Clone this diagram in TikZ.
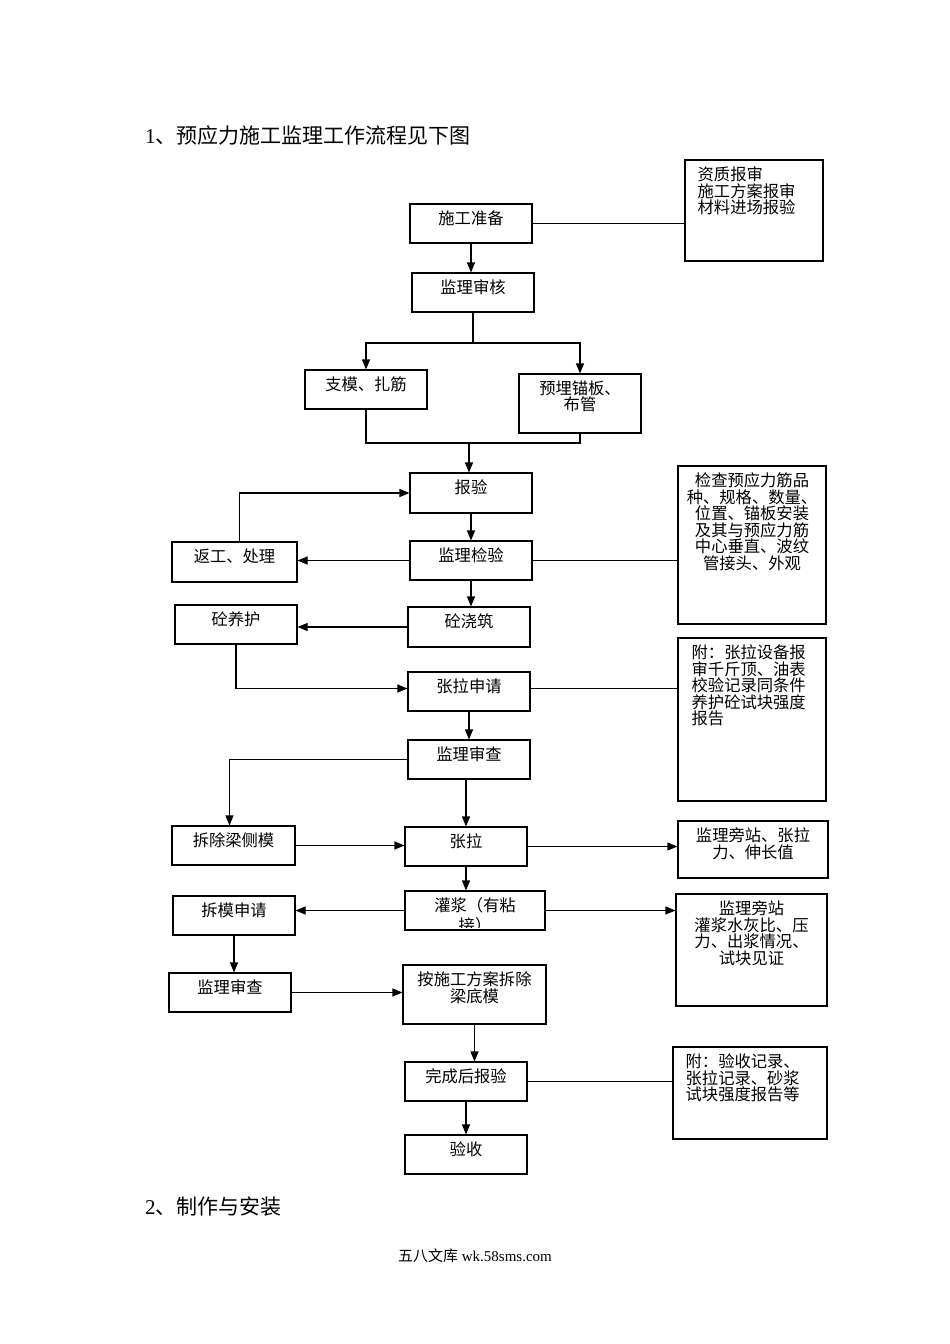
\documentclass[tikz,border=0pt]{standalone}
\usepackage{fontspec}
\setmainfont{Liberation Serif}
\newfontfamily\cjk{Noto Sans CJK SC}
\usetikzlibrary{arrows.meta}
\tikzset{
  bx/.style={draw, line width=1.1pt, inner sep=0pt, fill=white},
  lbl/.style={font=\cjk\fontsize{16.3}{16.6}\selectfont, inner sep=0pt, align=center, text=black},
  lbll/.style={font=\cjk\fontsize{16.3}{16.6}\selectfont, inner sep=0pt, align=left, text=black},
  ln/.style={line width=1.1pt},
  arr/.style={line width=1.1pt, -{Triangle[length=10pt,width=8pt]}},
  ttl/.style={font=\fontsize{21}{24}\selectfont, inner sep=0pt, anchor=west},
}
\newcommand{\bxc}[6]{% name, cx, cy, w, h, text
  \node[bx, minimum width=#4pt, minimum height=#5pt,
        label={[lbl,anchor=north,yshift=-7pt]north:{#6}}] (#1) at (#2,#3) {};}
\newcommand{\bxl}[7]{% name, cx, cy, w, h, xshift, text
  \node[bx, minimum width=#4pt, minimum height=#5pt,
        label={[lbll,anchor=north west,yshift=-7pt,xshift=#6pt]north west:{#7}}] (#1) at (#2,#3) {};}
\begin{document}
\begin{tikzpicture}[x=1pt,y=-1pt]
\fill[white] (0,0) rectangle (950,1344);
\useasboundingbox (0,0) rectangle (950,1344);

\node[ttl] (title1) at (145,136) {1{\cjk 、预应力施工监理工作流程见下图}};
\node[ttl] (title2) at (145,1207) {2{\cjk 、制作与安装}};
\node[font=\fontsize{15}{18}\selectfont, inner sep=0pt] (foot) at (475,1256) {{\cjk 五八文库} wk.58sms.com};

% boxes
\bxc{sg}{471}{223.5}{122}{39}{施工准备}
\bxl{zz}{754}{210.5}{138}{101}{13}{资质报审\\施工方案报审\\材料进场报验}
\bxc{sh}{473}{292.5}{122}{39}{监理审核}
\bxc{zm}{366}{389.5}{122}{39}{支模、扎筋}
\bxc{ym}{580}{403.5}{122}{59}{预埋锚板、\\布管}
\bxc{by}{471}{493}{122}{40}{报验}
\bxc{jc}{752}{545}{148}{158}{检查预应力筋品\\种、规格、数量、\\位置、锚板安装\\及其与预应力筋\\中心垂直、波纹\\管接头、外观}
\bxc{fg}{234.5}{562}{125}{40}{返工、处理}
\bxc{jy}{471}{560.5}{122}{39}{监理检验}
\bxc{jz}{469}{627}{122}{40}{砼浇筑}
\bxc{yh}{236}{624.5}{122}{39}{砼养护}
\bxc{zs}{469}{691.5}{122}{39}{张拉申请}
\bxl{fz}{752}{719.5}{148}{163}{14}{附：张拉设备报\\审千斤顶、油表\\校验记录同条件\\养护砼试块强度\\报告}
\bxc{sc}{469}{759.5}{122}{39}{监理审查}
\bxc{cc}{233.5}{845.5}{123}{39}{拆除梁侧模}
\bxc{zl}{466}{846.5}{122}{39}{张拉}
\bxc{pz}{753}{849.5}{150}{57}{监理旁站、张拉\\力、伸长值}
\node[bx, minimum width=140pt, minimum height=39pt] (gj) at (475,910.5) {};
\begin{scope}
  \clip ([yshift=3pt]gj.south west) rectangle (gj.north east);
  \node[lbl, font=\cjk\fontsize{16.3}{20}\selectfont, anchor=north] (gjt) at ([yshift=-7pt]gj.north) {灌浆（有粘\\接）};
\end{scope}
\draw[ln] (gj.south west) rectangle (gj.north east);
\bxc{cm}{234}{915.5}{122}{39}{拆模申请}
\bxc{pg}{751.5}{950}{151}{112}{监理旁站\\灌浆水灰比、压\\力、出浆情况、\\试块见证}
\bxc{scb}{230}{992.5}{122}{39}{监理审查}
\bxc{dm}{474.5}{994.5}{143}{59}{按施工方案拆除\\梁底模}
\bxc{wc}{466}{1081.5}{122}{39}{完成后报验}
\bxl{fy}{750}{1093}{154}{92}{13}{附：验收记录、\\张拉记录、砂浆\\试块强度报告等}
\bxc{ys}{466}{1154.5}{122}{39}{验收}

% connectors
\draw[ln] (sg.east) -- (sg.east -| zz.west);
\draw[arr] (sg.south) -- (sg.south |- sh.north);
\coordinate (s1) at (473,343);
\draw[ln] (sh.south) -- (s1);
\draw[arr] (s1) -| (zm.north);
\draw[arr] (s1) -| (ym.north);
\coordinate (j1) at (469,443);
\draw[ln] (zm.south) |- (j1);
\draw[ln] (ym.south) |- (j1);
\draw[arr] (j1) -- (j1 |- by.north);
\draw[arr] (by.south) -- (by.south |- jy.north);
\draw[ln] (jy.east) -- (jy.east -| jc.west);
\draw[arr] (jy.west) -- (jy.west -| fg.east);
\draw[arr] ([xshift=5pt]fg.north) |- (by.west);
\draw[arr] (jy.south) -- (jy.south |- jz.north);
\draw[arr] (jz.west) -- (jz.west -| yh.east);
\draw[arr] (yh.south) |- ([yshift=3pt]zs.west);
\draw[ln] ([yshift=3pt]zs.east) -- ([yshift=3pt]zs.east -| fz.west);
\draw[arr] (zs.south) -- (zs.south |- sc.north);
\draw[arr] (sc.west) -| ([xshift=-4pt]cc.north);
\draw[arr] (zl.north |- sc.south) -- (zl.north);
\draw[arr] (cc.east) -- (cc.east -| zl.west);
\draw[arr] (zl.east) -- (zl.east -| pz.west);
\draw[arr] (zl.south) -- (zl.south |- gj.north);
\draw[arr] (gj.west) -- (gj.west -| cm.east);
\draw[arr] (gj.east) -- (gj.east -| pg.west);
\draw[arr] (cm.south) -- (cm.south |- scb.north);
\draw[arr] (scb.east) -- (scb.east -| dm.west);
\draw[arr] (dm.south) -- (dm.south |- wc.north);
\draw[ln] (wc.east) -- (wc.east -| fy.west);
\draw[arr] (wc.south) -- (wc.south |- ys.north);
\end{tikzpicture}
\end{document}
